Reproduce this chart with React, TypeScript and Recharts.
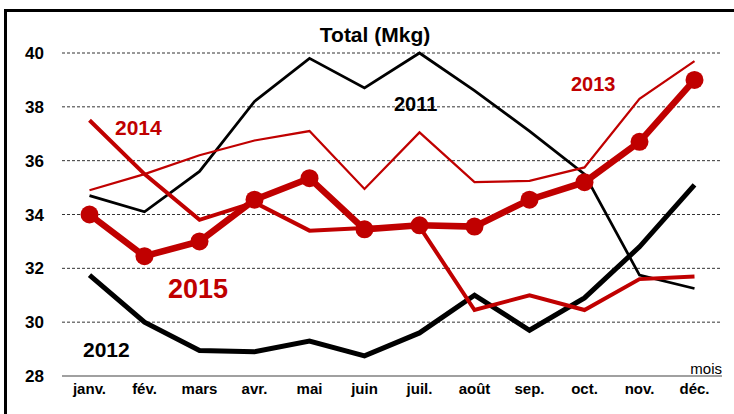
import { ComposedChart, Line, XAxis, YAxis, CartesianGrid } from 'recharts'

const months = ['janv.', 'fév.', 'mars', 'avr.', 'mai', 'juin', 'juil.', 'août', 'sep.', 'oct.', 'nov.', 'déc.']
const y2011 = [34.7, 34.1, 35.6, 38.2, 39.8, 38.7, 40.0, 38.6, 37.1, 35.5, 31.75, 31.25]
const y2012 = [31.75, 30.0, 28.95, 28.9, 29.3, 28.75, 29.6, 31.0, 29.7, 30.9, 32.8, 35.1]
const y2013 = [34.9, 35.5, 36.2, 36.75, 37.1, 34.95, 37.05, 35.2, 35.25, 35.75, 38.3, 39.7]
const y2014 = [37.5, 35.5, 33.8, 34.45, 33.4, 33.5, 33.55, 30.45, 31.0, 30.45, 31.6, 31.7]
const y2015 = [34.0, 32.45, 33.0, 34.55, 35.35, 33.45, 33.6, 33.55, 34.55, 35.2, 36.7, 39.0]
const yTicks = [28, 30, 32, 34, 36, 38, 40]
const gridValues = [30, 32, 34, 36, 38, 40]

const RED = '#c00000'
const FONT = '"Liberation Sans", Arial, sans-serif'

const data = months.map((m, i) => ({
  month: m,
  y2011: y2011[i],
  y2012: y2012[i],
  y2013: y2013[i],
  y2014: y2014[i],
  y2015: y2015[i],
}))

export default function App() {
  return (
    <div style={{ position: 'absolute', left: 0, top: 0, width: 734, height: 414, background: '#fff', overflow: 'hidden' }}>
      <div
        style={{
          position: 'absolute',
          left: 4,
          top: 9,
          width: 740,
          height: 420,
          borderLeft: '3px solid #000',
          borderTop: '3px solid #000',
          boxSizing: 'border-box',
        }}
      />
      <div style={{ position: 'absolute', left: 0, top: 0 }}>
        <ComposedChart width={734} height={414} data={data} margin={{ top: 53, right: 12, left: 0, bottom: 0 }}>
          <CartesianGrid
            horizontal
            vertical={false}
            horizontalValues={gridValues}
            stroke="#333"
            strokeDasharray="3 2"
          />
          <XAxis
            dataKey="month"
            height={38}
            padding={{ left: 27.5, right: 27.5 }}
            axisLine={{ stroke: '#808080', strokeWidth: 1.5 }}
            tickLine={false}
            tickSize={0}
            tickMargin={7}
            interval={0}
            tick={{ fill: '#000', fontSize: 15, fontWeight: 'bold', fontFamily: FONT }}
          />
          <YAxis
            domain={[28, 40]}
            ticks={yTicks}
            width={62}
            axisLine={false}
            tickLine={false}
            tickSize={0}
            tickMargin={18}
            tick={{ fill: '#000', fontSize: 17, fontWeight: 'bold', fontFamily: FONT }}
          />
          <Line dataKey="y2011" stroke="#000" strokeWidth={2.75} dot={false} isAnimationActive={false} />
          <Line dataKey="y2012" stroke="#000" strokeWidth={5} dot={false} isAnimationActive={false} />
          <Line dataKey="y2013" stroke={RED} strokeWidth={2.25} dot={false} isAnimationActive={false} />
          <Line dataKey="y2014" stroke={RED} strokeWidth={4} dot={false} isAnimationActive={false} />
          <Line
            dataKey="y2015"
            stroke={RED}
            strokeWidth={6.5}
            dot={{ r: 9, fill: RED, stroke: RED, strokeWidth: 0 }}
            isAnimationActive={false}
          />
        </ComposedChart>
      </div>
      <svg width={734} height={414} style={{ position: 'absolute', left: 0, top: 0, pointerEvents: 'none' }}>
        <g fontFamily={FONT} fontWeight="bold">
          <text x={375} y={42} textAnchor="middle" fontSize={21} fill="#000">Total (Mkg)</text>
          <text x={394} y={111} fontSize={20} fill="#000">2011</text>
          <text x={571} y={91} fontSize={20} fill={RED}>2013</text>
          <text x={115} y={135} fontSize={21} fill={RED}>2014</text>
          <text x={168} y={298} fontSize={27} fill={RED}>2015</text>
          <text x={83} y={357} fontSize={21} fill="#000">2012</text>
        </g>
        <text x={722} y={374} textAnchor="end" fontSize={15} fontFamily={FONT} fill="#000">mois</text>
      </svg>
    </div>
  )
}
